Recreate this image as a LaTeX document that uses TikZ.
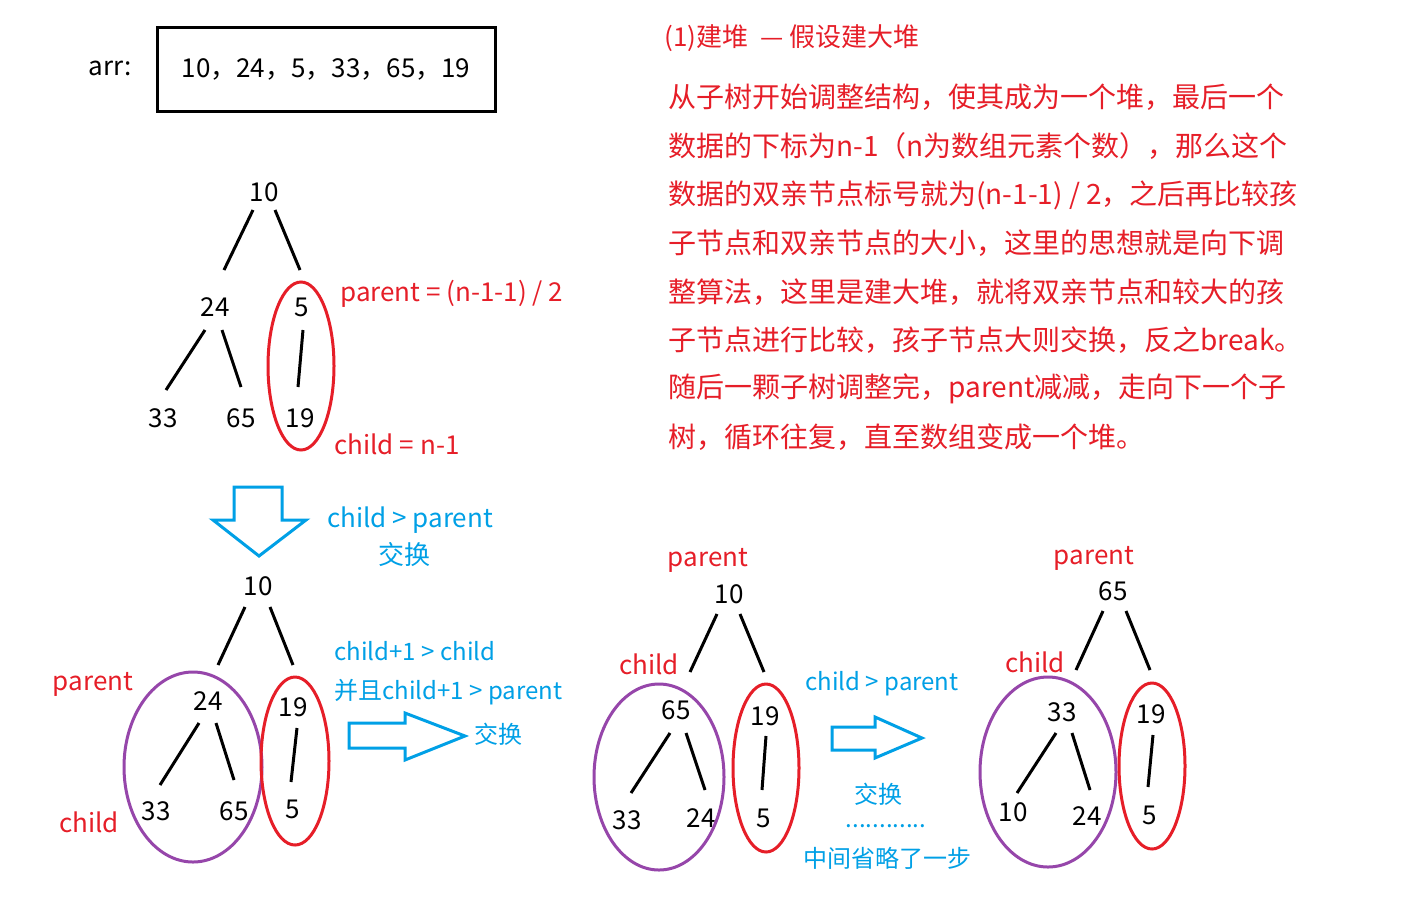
\documentclass[tikz,border=0pt]{standalone}
\usepackage{fontspec}
\setmainfont{Noto Sans CJK SC}
\definecolor{rd}{RGB}{230,30,40}
\definecolor{bl}{RGB}{0,160,230}
\definecolor{pu}{RGB}{150,70,170}
\begin{document}
\begin{tikzpicture}[x=0.5pt,y=-0.5pt,
  num/.style={font=\fontsize{13}{15}\selectfont,inner sep=0pt},
  rt/.style={font=\fontsize{13}{15}\selectfont,text=rd,inner sep=0pt},
  bt/.style={font=\fontsize{12}{14}\selectfont,text=bl,inner sep=0pt},
  pt/.style={font=\fontsize{14}{16}\selectfont,text=rd,inner sep=0pt,anchor=west},
  ed/.style={line width=1.5pt},
  rell/.style={draw=rd,line width=1.5pt},
  pell/.style={draw=pu,line width=1.5pt},
  barr/.style={draw=bl,line width=1.5pt,line join=miter}]
\useasboundingbox[fill=white] (0,0) rectangle (1428,917);
\node[num] (arrl) at (110,68) {arr:};
\node[draw,line width=1.5pt,minimum width=169pt,minimum height=42pt,num] (arr) at (326,69) {10，24，5，33，65，19};
% tree1
\node[num] (a10) at (264,192) {10};
\node[num] (a24) at (215,307) {24};
\node[num] (a5) at (302,307) {5};
\node[num] (a33) at (163,418) {33};
\node[num] (a65) at (241,418) {65};
\node[num] (a19) at (300,418) {19};
\draw[ed] (253,210)--(224,270) (275,210)--(300,270) (205,330)--(166,390) (222,330)--(241,387) (303,330)--(298,387);
\draw[rell] (301,366) ellipse [x radius=33, y radius=84];
\node[rt,anchor=west] (p1) at (340,294) {parent = (n-1-1) / 2};
\node[rt,anchor=west] (c1) at (334,444) {child = n-1};
% down arrow
\draw[barr] (234,487)--(282,487)--(282,520)--(306,520)--(259,556)--(213,520)--(234,520)--cycle;
\node[bt,font=\fontsize{13}{15}\selectfont] (t1) at (410,520) {child > parent};
\node[bt,font=\fontsize{13}{15}\selectfont] (t2) at (404,555) {交换};
% tree2
\node[num] (b10) at (258,586) {10};
\node[num] (b24) at (208,701) {24};
\node[num] (b19) at (293,707) {19};
\node[num] (b33) at (156,811) {33};
\node[num] (b65) at (234,811) {65};
\node[num] (b5) at (293,809) {5};
\draw[ed] (245,607)--(218,665) (270,607)--(293,665) (199,723)--(160,785) (216,723)--(234,780) (297,728)--(291,782);
\draw[pell] (193,767) ellipse [x radius=69, y radius=95];
\draw[rell] (295,761) ellipse [x radius=34, y radius=84];
\node[rt] (p2) at (93,684) {parent};
\node[rt] (c2) at (89,822) {child};
\node[bt,anchor=west] (t3) at (334,651) {child+1 > child};
\node[bt,anchor=west] (t4) at (334,692) {并且child+1 > parent};
\draw[barr] (349,723)--(405,723)--(405,713)--(465,736)--(405,760)--(405,748)--(349,748)--cycle;
\node[bt] (t5) at (498,734) {交换};
% tree3
\node[rt] (p3) at (708,560) {parent};
\node[num] (c10) at (729,594) {10};
\node[rt] (c3) at (649,664) {child};
\node[num] (c65) at (676,710) {65};
\node[num] (c19) at (765,716) {19};
\node[num] (c33) at (627,820) {33};
\node[num] (c24) at (701,818) {24};
\node[num] (c5) at (764,818) {5};
\draw[ed] (717,614)--(690,672) (740,614)--(764,672) (670,733)--(631,793) (686,733)--(705,790) (766,736)--(762,790);
\draw[pell] (659,777) ellipse [x radius=65, y radius=93];
\draw[rell] (766,768) ellipse [x radius=33, y radius=84];
\node[bt] (t6) at (882,684) {child > parent};
\draw[barr] (832,727)--(875,727)--(875,717)--(922,738)--(875,758)--(875,750)--(832,750)--cycle;
\node[bt] (t7) at (878,794) {交换};
\node[bt] (t8) at (886,826) {............};
\node[bt] (t9) at (887,858) {中间省略了一步};
% tree4
\node[rt] (p4) at (1094,558) {parent};
\node[num] (d65) at (1113,591) {65};
\node[rt] (c4) at (1035,662) {child};
\node[num] (d33) at (1062,712) {33};
\node[num] (d19) at (1151,714) {19};
\node[num] (d10) at (1013,812) {10};
\node[num] (d24) at (1087,816) {24};
\node[num] (d5) at (1150,815) {5};
\draw[ed] (1103,611)--(1076,670) (1126,611)--(1150,670) (1056,733)--(1017,793) (1072,733)--(1090,790) (1153,735)--(1148,787);
\draw[pell] (1048,772) ellipse [x radius=68, y radius=95];
\draw[rell] (1152,766) ellipse [x radius=33, y radius=83];
% text
\node[rt,anchor=west] (h) at (664,38) {(1)建堆\ \ --- 假设建大堆};
\node[pt] (l1) at (668,97) {从子树开始调整结构，使其成为一个堆，最后一个};
\node[pt] (l2) at (668,146) {数据的下标为n-1（n为数组元素个数），那么这个};
\node[pt] (l3) at (668,195) {数据的双亲节点标号就为(n-1-1) / 2，之后再比较孩};
\node[pt] (l4) at (668,243) {子节点和双亲节点的大小，这里的思想就是向下调};
\node[pt] (l5) at (668,292) {整算法，这里是建大堆，就将双亲节点和较大的孩};
\node[pt] (l6) at (668,340) {子节点进行比较，孩子节点大则交换，反之break。};
\node[pt] (l7) at (668,389) {随后一颗子树调整完，parent减减，走向下一个子};
\node[pt] (l8) at (668,437) {树，循环往复，直至数组变成一个堆。};
\end{tikzpicture}
\end{document}
